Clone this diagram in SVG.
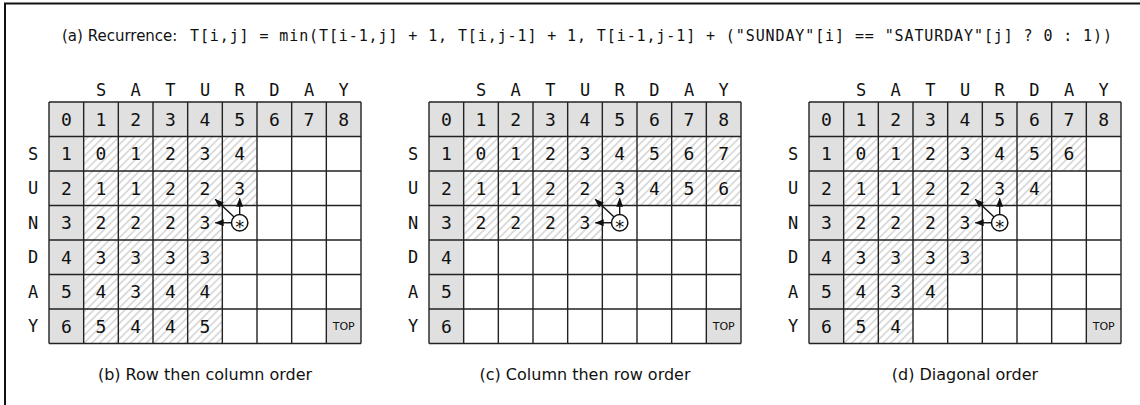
<svg xmlns="http://www.w3.org/2000/svg" xmlns:xlink="http://www.w3.org/1999/xlink" width="1140" height="405" viewBox="0 0 1140 405">
<style>
  .mono { font-family: "DejaVu Sans Mono", "Liberation Mono", monospace; font-size: 18px; fill: #111; text-anchor: middle; }
  .lbl { font-family: "DejaVu Sans Mono", "Liberation Mono", monospace; font-size: 17px; fill: #111; text-anchor: middle; }
  .ttl { font-family: "DejaVu Sans Mono", "Liberation Mono", monospace; font-size: 15px; fill: #111; }
  .sans { font-family: "DejaVu Sans", "Liberation Sans", sans-serif; font-size: 16px; fill: #111; }
  .sanst { font-family: "DejaVu Sans", "Liberation Sans", sans-serif; font-size: 15px; fill: #111; }
  .cap { text-anchor: middle; }
  .top { font-family: "DejaVu Sans", "Liberation Sans", sans-serif; font-size: 11px; fill: #111; text-anchor: middle; }
  .gray { fill: #e0e0e0; }
  .hatch { fill: url(#hatch); }
  .grid { fill: none; stroke: #222; stroke-width: 1.4; }
  .arrow { stroke: #111; stroke-width: 1.4; fill: none; marker-end: url(#ah); }
  .star { fill: #fff; stroke: #111; stroke-width: 1.5; }
  .ast { font-family: "DejaVu Sans", "Liberation Sans", sans-serif; font-size: 18px; fill: #111; text-anchor: middle; }
</style>
<defs>
  <pattern id="hatch" patternUnits="userSpaceOnUse" width="5.5" height="5.5" patternTransform="rotate(45)">
    <line x1="2.75" y1="0" x2="2.75" y2="5.5" stroke="#aaaaaa" stroke-width="0.8"/>
  </pattern>
  <marker id="ah" markerUnits="userSpaceOnUse" markerWidth="9" markerHeight="7" viewBox="0 0 9 7" refX="8.5" refY="3.5" orient="auto">
    <path d="M0,0 L9,3.5 L0,7 z" fill="#111"/>
  </marker>
  <g id="base">
    <rect x="0" y="0" width="312" height="241.5" fill="#fff"/>
    <rect class="gray" x="0" y="0" width="312" height="34.5"/>
    <rect class="gray" x="0" y="34.5" width="34.667" height="207"/>
    <rect class="gray" x="277.333" y="207" width="34.667" height="34.5"/>
  </g>
  <g id="labels">
    <text class="lbl" x="52" y="-6">S</text>
    <text class="lbl" x="86.67" y="-6">A</text>
    <text class="lbl" x="121.33" y="-6">T</text>
    <text class="lbl" x="156" y="-6">U</text>
    <text class="lbl" x="190.67" y="-6">R</text>
    <text class="lbl" x="225.33" y="-6">D</text>
    <text class="lbl" x="260" y="-6">A</text>
    <text class="lbl" x="294.67" y="-6">Y</text>
    <text class="lbl" x="-16" y="57.9">S</text>
    <text class="lbl" x="-16" y="92.4">U</text>
    <text class="lbl" x="-16" y="126.9">N</text>
    <text class="lbl" x="-16" y="161.4">D</text>
    <text class="lbl" x="-16" y="195.9">A</text>
    <text class="lbl" x="-16" y="230.4">Y</text>
    <text class="mono" x="17.33" y="23.8">0</text>
    <text class="mono" x="52" y="23.8">1</text>
    <text class="mono" x="86.67" y="23.8">2</text>
    <text class="mono" x="121.33" y="23.8">3</text>
    <text class="mono" x="156" y="23.8">4</text>
    <text class="mono" x="190.67" y="23.8">5</text>
    <text class="mono" x="225.33" y="23.8">6</text>
    <text class="mono" x="260" y="23.8">7</text>
    <text class="mono" x="294.67" y="23.8">8</text>
    <text class="mono" x="17.33" y="58.3">1</text>
    <text class="mono" x="17.33" y="92.8">2</text>
    <text class="mono" x="17.33" y="127.3">3</text>
    <text class="mono" x="17.33" y="161.8">4</text>
    <text class="mono" x="17.33" y="196.3">5</text>
    <text class="mono" x="17.33" y="230.8">6</text>
    <text class="top" x="294.67" y="228.2">TOP</text>
  </g>
  <path id="lines" class="grid" d="M0,0 V241.5 M34.667,0 V241.5 M69.333,0 V241.5 M104,0 V241.5 M138.667,0 V241.5 M173.333,0 V241.5 M208,0 V241.5 M242.667,0 V241.5 M277.333,0 V241.5 M312,0 V241.5 M0,0 H312 M0,34.5 H312 M0,69 H312 M0,103.5 H312 M0,138 H312 M0,172.5 H312 M0,207 H312 M0,241.5 H312"/>
  <g id="cursor">
    <circle class="star" cx="190.67" cy="120.75" r="8.2"/>
    <text class="ast" x="190.67" y="131.2">*</text>
  </g>
</defs>

<path d="M5,405 V3.5 H1140" fill="none" stroke="#111" stroke-width="2"/>

<g id="title">
  <text class="sanst" x="62" y="41">(a) Recurrence:</text>
  <text class="ttl" x="190" y="41" textLength="922" lengthAdjust="spacing">T[i,j] = min(T[i-1,j] + 1, T[i,j-1] + 1, T[i-1,j-1] + ("SUNDAY"[i] == "SATURDAY"[j] ? 0 : 1))</text>
</g>

<g id="panel-b" transform="translate(49,102)">
  <use href="#base"/>
  <rect class="hatch" x="34.667" y="34.5" width="173.333" height="69"/>
  <rect class="hatch" x="34.667" y="103.5" width="138.667" height="138"/>
  <use href="#lines"/>
  <use href="#labels"/>
  <text class="mono" x="52" y="58.3">0</text><text class="mono" x="86.67" y="58.3">1</text><text class="mono" x="121.33" y="58.3">2</text><text class="mono" x="156" y="58.3">3</text><text class="mono" x="190.67" y="58.3">4</text>
  <text class="mono" x="52" y="92.8">1</text><text class="mono" x="86.67" y="92.8">1</text><text class="mono" x="121.33" y="92.8">2</text><text class="mono" x="156" y="92.8">2</text><text class="mono" x="190.67" y="92.8">3</text>
  <text class="mono" x="52" y="127.3">2</text><text class="mono" x="86.67" y="127.3">2</text><text class="mono" x="121.33" y="127.3">2</text><text class="mono" x="156" y="127.3">3</text>
  <text class="mono" x="52" y="161.8">3</text><text class="mono" x="86.67" y="161.8">3</text><text class="mono" x="121.33" y="161.8">3</text><text class="mono" x="156" y="161.8">3</text>
  <text class="mono" x="52" y="196.3">4</text><text class="mono" x="86.67" y="196.3">3</text><text class="mono" x="121.33" y="196.3">4</text><text class="mono" x="156" y="196.3">4</text>
  <text class="mono" x="52" y="230.8">5</text><text class="mono" x="86.67" y="230.8">4</text><text class="mono" x="121.33" y="230.8">4</text><text class="mono" x="156" y="230.8">5</text>
  <use href="#cursor"/>
  <text class="sans cap" x="156" y="278">(b) Row then column order</text>
</g>

<g id="panel-c" transform="translate(429,102)">
  <use href="#base"/>
  <rect class="hatch" x="34.667" y="34.5" width="277.333" height="69"/>
  <rect class="hatch" x="34.667" y="103.5" width="138.667" height="34.5"/>
  <use href="#lines"/>
  <use href="#labels"/>
  <text class="mono" x="52" y="58.3">0</text><text class="mono" x="86.67" y="58.3">1</text><text class="mono" x="121.33" y="58.3">2</text><text class="mono" x="156" y="58.3">3</text><text class="mono" x="190.67" y="58.3">4</text><text class="mono" x="225.33" y="58.3">5</text><text class="mono" x="260" y="58.3">6</text><text class="mono" x="294.67" y="58.3">7</text>
  <text class="mono" x="52" y="92.8">1</text><text class="mono" x="86.67" y="92.8">1</text><text class="mono" x="121.33" y="92.8">2</text><text class="mono" x="156" y="92.8">2</text><text class="mono" x="190.67" y="92.8">3</text><text class="mono" x="225.33" y="92.8">4</text><text class="mono" x="260" y="92.8">5</text><text class="mono" x="294.67" y="92.8">6</text>
  <text class="mono" x="52" y="127.3">2</text><text class="mono" x="86.67" y="127.3">2</text><text class="mono" x="121.33" y="127.3">2</text><text class="mono" x="156" y="127.3">3</text>
  <use href="#cursor"/>
  <text class="sans cap" x="156" y="278">(c) Column then row order</text>
</g>

<g id="panel-d" transform="translate(809,102)">
  <use href="#base"/>
  <rect class="hatch" x="34.667" y="34.5" width="242.667" height="34.5"/>
  <rect class="hatch" x="34.667" y="69" width="208" height="34.5"/>
  <rect class="hatch" x="34.667" y="103.5" width="138.667" height="69"/>
  <rect class="hatch" x="34.667" y="172.5" width="104" height="34.5"/>
  <rect class="hatch" x="34.667" y="207" width="69.333" height="34.5"/>
  <use href="#lines"/>
  <use href="#labels"/>
  <text class="mono" x="52" y="58.3">0</text><text class="mono" x="86.67" y="58.3">1</text><text class="mono" x="121.33" y="58.3">2</text><text class="mono" x="156" y="58.3">3</text><text class="mono" x="190.67" y="58.3">4</text><text class="mono" x="225.33" y="58.3">5</text><text class="mono" x="260" y="58.3">6</text>
  <text class="mono" x="52" y="92.8">1</text><text class="mono" x="86.67" y="92.8">1</text><text class="mono" x="121.33" y="92.8">2</text><text class="mono" x="156" y="92.8">2</text><text class="mono" x="190.67" y="92.8">3</text><text class="mono" x="225.33" y="92.8">4</text>
  <text class="mono" x="52" y="127.3">2</text><text class="mono" x="86.67" y="127.3">2</text><text class="mono" x="121.33" y="127.3">2</text><text class="mono" x="156" y="127.3">3</text>
  <text class="mono" x="52" y="161.8">3</text><text class="mono" x="86.67" y="161.8">3</text><text class="mono" x="121.33" y="161.8">3</text><text class="mono" x="156" y="161.8">3</text>
  <text class="mono" x="52" y="196.3">4</text><text class="mono" x="86.67" y="196.3">3</text><text class="mono" x="121.33" y="196.3">4</text>
  <text class="mono" x="52" y="230.8">5</text><text class="mono" x="86.67" y="230.8">4</text>
  <use href="#cursor"/>
  <text class="sans cap" x="156" y="278">(d) Diagonal order</text>
</g>

<g id="connectors">
  <g transform="translate(49,102)">
    <line class="arrow" x1="182" y1="120.75" x2="166.2" y2="120.75"/>
    <line class="arrow" x1="190.67" y1="112.1" x2="190.67" y2="96.3"/>
    <line class="arrow" x1="184.8" y1="114.8" x2="166.2" y2="97.3"/>
  </g>
  <g transform="translate(429,102)">
    <line class="arrow" x1="182" y1="120.75" x2="166.2" y2="120.75"/>
    <line class="arrow" x1="190.67" y1="112.1" x2="190.67" y2="96.3"/>
    <line class="arrow" x1="184.8" y1="114.8" x2="166.2" y2="97.3"/>
  </g>
  <g transform="translate(809,102)">
    <line class="arrow" x1="182" y1="120.75" x2="166.2" y2="120.75"/>
    <line class="arrow" x1="190.67" y1="112.1" x2="190.67" y2="96.3"/>
    <line class="arrow" x1="184.8" y1="114.8" x2="166.2" y2="97.3"/>
  </g>
</g>
</svg>
